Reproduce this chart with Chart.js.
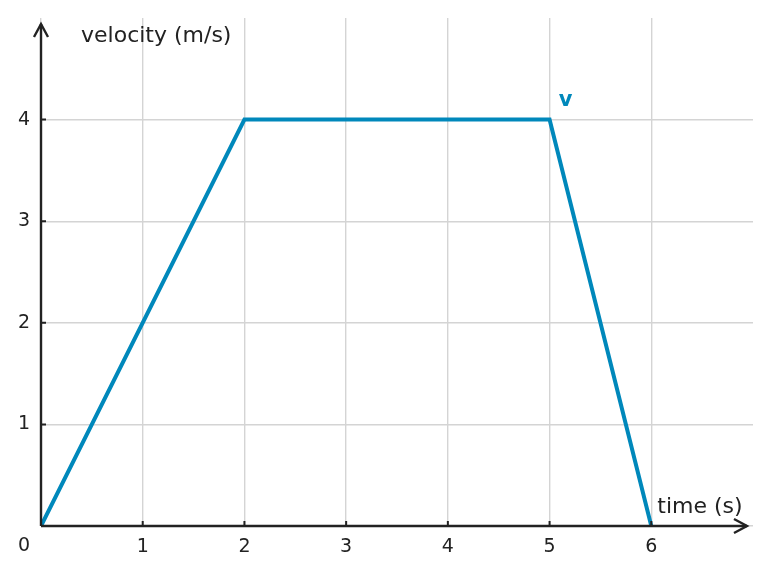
<!DOCTYPE html>
<html lang="en">
<head>
  <meta charset="UTF-8">
  <title>Velocity vs time</title>
  <script src="https://cdn.jsdelivr.net/npm/chart.js"></script>
  <style>
    html, body { margin: 0; padding: 0; background: #fff; }
    #wrap { width: 771px; height: 575px; }
  </style>
</head>
<body>
  <div id="wrap"><canvas id="chart" width="771" height="575"></canvas></div>
  <script>
    // data
    const times = [0, 2, 5, 6];
    const velocity = [0, 4, 4, 0];
    const xTicks = [0, 1, 2, 3, 4, 5, 6, 7];
    const yTicks = [0, 1, 2, 3, 4, 5];
    const seriesLabel = 'v';
    const xTitle = 'time (s)';
    const yTitle = 'velocity (m/s)';

    const FONT = "'DejaVu Sans', sans-serif";
    const INK = '#222222';
    const BLUE = '#0088bb';
    const GRID = '#d4d4d4';

    // axes with arrows, inner ticks, axis titles, corner zero and series label
    const decor = {
      id: 'decor',
      afterDatasetsDraw(chart) {
        const ctx = chart.ctx;
        const x = chart.scales.x, y = chart.scales.y;
        const x0 = x.getPixelForValue(0), y0 = y.getPixelForValue(0);
        const xEnd = x.right - 6, yEnd = y.top + 6;
        ctx.save();
        ctx.strokeStyle = INK;
        ctx.lineWidth = 2.4;
        ctx.lineCap = 'butt';
        ctx.beginPath();
        ctx.moveTo(x0, y0); ctx.lineTo(xEnd, y0);
        ctx.moveTo(x0, y0); ctx.lineTo(x0, yEnd);
        ctx.stroke();
        // chevron heads
        ctx.lineJoin = 'miter';
        ctx.beginPath();
        ctx.moveTo(xEnd - 13, y0 - 7); ctx.lineTo(xEnd, y0); ctx.lineTo(xEnd - 13, y0 + 7);
        ctx.moveTo(x0 - 7, yEnd + 13); ctx.lineTo(x0, yEnd); ctx.lineTo(x0 + 7, yEnd + 13);
        ctx.stroke();
        // inner ticks
        ctx.lineWidth = 2;
        ctx.beginPath();
        [1, 2, 3, 4, 5, 6].forEach(v => {
          const px = x.getPixelForValue(v);
          ctx.moveTo(px, y0); ctx.lineTo(px, y0 - 5);
        });
        [1, 2, 3, 4].forEach(v => {
          const py = y.getPixelForValue(v);
          ctx.moveTo(x0, py); ctx.lineTo(x0 + 5, py);
        });
        ctx.stroke();
        // texts
        ctx.fillStyle = INK;
        ctx.font = '19px ' + FONT;
        ctx.textAlign = 'center';
        ctx.textBaseline = 'middle';
        ctx.fillText('0', x0 - 17, y0 + 20);
        ctx.font = '22px ' + FONT;
        ctx.textAlign = 'left';
        ctx.fillText(yTitle, x0 + 40, y.top + 18);
        ctx.fillText(xTitle, x.getPixelForValue(6) + 6, y0 - 19);
        // series label beside the last plateau point
        ctx.fillStyle = BLUE;
        ctx.font = 'bold 21px ' + FONT;
        ctx.textAlign = 'center';
        ctx.fillText(seriesLabel, x.getPixelForValue(times[2]) + 16, y.getPixelForValue(velocity[2]) - 19);
        ctx.restore();
      }
    };

    const gridColor = max => c => (c.tick && c.tick.value === max) ? 'rgba(0,0,0,0)' : GRID;

    new Chart(document.getElementById('chart'), {
      type: 'line',
      data: {
        datasets: [{
          label: seriesLabel,
          data: times.map((t, i) => ({ x: t, y: velocity[i] })),
          borderColor: BLUE,
          borderWidth: 4,
          pointRadius: 0,
          tension: 0,
          borderJoinStyle: 'miter'
        }]
      },
      options: {
        responsive: false,
        animation: false,
        layout: { padding: { top: 18, right: 18, left: 0, bottom: 0 } },
        plugins: { legend: { display: false }, tooltip: { enabled: false } },
        scales: {
          x: {
            type: 'linear',
            min: 0, max: 7,
            afterBuildTicks: s => { s.ticks = xTicks.map(v => ({ value: v })); },
            afterFit: s => { s.height = 49; s.paddingLeft = 0; s.paddingRight = 0; },
            border: { display: false },
            grid: { color: gridColor(7), lineWidth: 1.4, drawTicks: false },
            ticks: {
              padding: 10,
              color: INK,
              font: { family: FONT, size: 19 },
              callback: v => (v === 0 || v === 7) ? '' : String(v)
            }
          },
          y: {
            type: 'linear',
            min: 0, max: 5,
            afterBuildTicks: s => { s.ticks = yTicks.map(v => ({ value: v })); },
            afterFit: s => { s.width = 41; s.paddingTop = 0; s.paddingBottom = 0; },
            border: { display: false },
            grid: { color: gridColor(5), lineWidth: 1.4, drawTicks: false },
            ticks: {
              padding: 11,
              color: INK,
              font: { family: FONT, size: 19 },
              callback: v => (v === 0 || v === 5) ? '' : String(v)
            }
          }
        }
      },
      plugins: [decor]
    });
  </script>
</body>
</html>
